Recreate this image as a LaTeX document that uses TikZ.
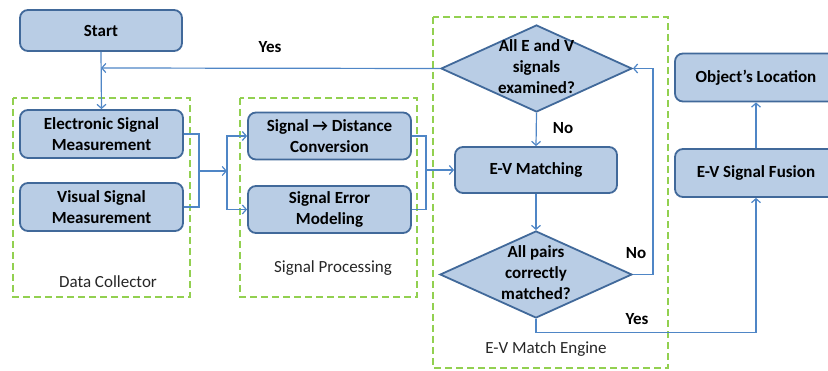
\documentclass[tikz,border=0pt]{standalone}
\usepackage{fontspec}
\setmainfont{Carlito}
\usetikzlibrary{shapes.geometric,arrows.meta}
\definecolor{boxfill}{HTML}{B9CDE5}
\definecolor{boxline}{HTML}{41699A}
\definecolor{conn}{HTML}{4F86C6}
\definecolor{grn}{HTML}{92D050}
\tikzset{
  procbox/.style={draw=boxline,fill=boxfill,line width=1.8pt,rounded corners=8pt,
    minimum width=162pt,align=center,font=\fontsize{17}{21.5}\selectfont\bfseries,inner sep=0pt},
  decbox/.style={draw=boxline,fill=boxfill,line width=1.8pt,diamond,inner sep=0pt,
    minimum width=191pt,minimum height=87pt},
  dectext/.style={align=center,font=\fontsize{17}{21}\selectfont\bfseries,inner sep=0pt},
  groupbox/.style={draw=grn,line width=2.2pt,dash pattern=on 7pt off 4pt},
  grouplabel/.style={font=\fontsize{17}{20}\selectfont,text=black!85},
  flowlabel/.style={font=\fontsize{17}{20}\selectfont\bfseries},
  conline/.style={draw=conn,line width=1.2pt},
  arr/.style={conline,-{Straight Barb[length=4pt,width=9pt,line width=1.2pt]}}
}
\begin{document}
\begin{tikzpicture}[x=1pt,y=-1pt]
\useasboundingbox (0,0) rectangle (828,371);
% group boxes
\draw[groupbox] (13,98) rectangle (190,297);
\draw[groupbox] (240,98) rectangle (417,297);
\draw[groupbox] (433,17) rectangle (668,368);
\node[grouplabel] (dcl) at (108,282) {Data Collector};
\node[grouplabel] (spl) at (333,268) {Signal Processing};
\node[grouplabel] (evl) at (546,349) {E-V Match Engine};
% process boxes
\node[procbox,minimum height=41pt] (start) at (101,30.5) {Start};
\node[procbox,minimum height=48pt,minimum width=163pt] (esm) at (101.5,134) {Electronic Signal\\Measurement};
\node[procbox,minimum height=48pt,minimum width=163pt] (vsm) at (101.5,207) {Visual Signal\\Measurement};
\node[procbox,minimum height=47pt,minimum width=163pt] (sdc) at (329.5,136) {Signal \textrightarrow\ Distance\\Conversion};
\node[procbox,minimum height=47pt,minimum width=163pt] (sem) at (329.5,209.5) {Signal Error\\Modeling};
\node[procbox,minimum height=46pt] (evm) at (536,170) {E-V Matching};
\node[decbox] (d1) at (536.5,68.5) {};
\node[dectext] (d1t) at (536.5,67) {All E and V\\signals\\examined?};
\node[decbox,minimum width=192pt] (d2) at (536,274.5) {};
\node[dectext] (d2t) at (536,273) {All pairs\\correctly\\matched?};
\node[procbox,minimum height=48pt] (loc) at (756,77.5) {Object’s Location};
\node[procbox,minimum height=48pt] (fus) at (756,173) {E-V Signal Fusion};
% flow labels
\node[flowlabel] (yes1) at (270,47) {Yes};
\node[flowlabel] (no1) at (563,128) {No};
\node[flowlabel] (no2) at (636,253) {No};
\node[flowlabel] (yes2) at (637,319) {Yes};
% junctions
\coordinate (ym) at (101,68);
\coordinate (j1) at (199,171);
\coordinate (j2) at (227,171);
\coordinate (j3) at (426,170);
% connectors
\draw[arr] (start.south) -- (esm.north);
\draw[arr] (d1.west) -- (ym);
\draw[conline] (esm.east) -| (j1) |- (vsm.east);
\draw[arr] (j1) -- (j2);
\draw[arr] (j2) |- (sdc.west);
\draw[arr] (j2) |- (sem.west);
\draw[conline] (sdc.east) -| (j3) |- (sem.east);
\draw[arr] (j3) -- (evm.west);
\draw[arr] (d1.south) -- (evm.north);
\draw[arr] (evm.south) -- (d2.north);
\draw[arr] (d2.east) -- ++(20,0) |- (d1.east);
\draw[arr] (d2.south) -- ++(0,14) -| (fus.south);
\draw[arr] (fus.north) -- (loc.south);
\end{tikzpicture}
\end{document}
